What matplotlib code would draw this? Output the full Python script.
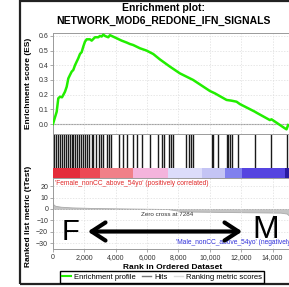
import matplotlib
matplotlib.use("Agg")
import matplotlib.pyplot as plt
from matplotlib.patches import Rectangle, FancyArrowPatch
from matplotlib.lines import Line2D

plt.rcParams['font.family'] = ['Liberation Sans', 'DejaVu Sans']

# running enrichment score (rank, ES)
es_rank = [0, 127, 236, 274, 338, 446, 573, 656, 764, 873, 975, 1083, 1191, 1293,
           1401, 1510, 1612, 1720, 1828, 1930, 2038, 2147, 2357, 2465, 2675, 2886,
           2994, 3102, 3204, 3312, 3523, 3631, 3739, 4058, 4376, 4695, 4905, 5115,
           5542, 5969, 6389, 6816, 7453, 8090, 8937, 10001, 10319, 11065, 11383,
           11702, 11912, 12867, 12976, 13823, 13931, 14778, 14887, 14989]
es_val = [0.0, 0.046, 0.084, 0.118, 0.175, 0.186, 0.182, 0.198, 0.22, 0.254, 0.31,
          0.334, 0.357, 0.368, 0.40, 0.425, 0.448, 0.477, 0.49, 0.527, 0.561, 0.577,
          0.577, 0.568, 0.591, 0.591, 0.60, 0.596, 0.609, 0.60, 0.591, 0.605, 0.60,
          0.584, 0.568, 0.555, 0.545, 0.538, 0.516, 0.50, 0.477, 0.44, 0.391, 0.345,
          0.30, 0.225, 0.209, 0.164, 0.159, 0.152, 0.136, 0.084, 0.077, 0.027, 0.032,
          -0.029, -0.036, -0.007]

# positions of the gene set members (hits)
hits = [64, 191, 318, 446, 573, 701, 828, 955, 1083, 1210, 1306, 1433, 1561, 1656,
        1784, 1911, 2038, 2166, 2293, 2484, 2580, 2739, 2930, 3058, 3185, 3440, 3567,
        3694, 4204, 4459, 4714, 5096, 5351, 5669, 6179, 6688, 6943, 7071, 7389, 7516,
        7644, 8472, 8663, 8791, 8918, 10128, 10224, 10511, 11084, 11180, 11275, 11403,
        11785, 12867, 13887, 14906]

# ranked list metric (rank, value)
metric_rank = [0, 30, 150, 500, 1200, 2500, 4500, 7284, 8000, 9000, 12000, 14500, 14900, 15150]
metric_val = [5.5, 3.8, 2.8, 2.0, 1.4, 0.9, 0.5, 0.0, -1.5, -2.3, -2.8, -3.2, -4.0, -7.0]

# colour bar blocks under the hits
bar_edges = [0, 1700, 2994, 5096, 7325, 9491, 10956, 12039, 14778, 15400]
bar_colors = ['#e42c3a', '#ec4a55', '#f08088', '#f4b4dc', '#dcdcfa', '#c4c4f4',
              '#8080ee', '#5544e0', '#2a1aa0']

xticks = [0, 2000, 4000, 6000, 8000, 10000, 12000, 14000]
xtick_labels = ['0', '2,000', '4,000', '6,000', '8,000', '10,000', '12,000', '14,000']
es_ticks = [0.0, 0.1, 0.2, 0.3, 0.4, 0.5, 0.6]
rank_ticks = [-30, -20, -10, 0, 10, 20]

W, H = 289, 287
X_MAX = 15300
fig = plt.figure(figsize=(W / 100, H / 100), dpi=100)


def add_ax(x0, y0, x1, y1):
    return fig.add_axes([x0 / W, 1 - y1 / H, (x1 - x0) / W, (y1 - y0) / H])


def style(ax):
    for s in ax.spines.values():
        s.set_color('#9a9a9a')
        s.set_linewidth(0.7)
    ax.tick_params(labelsize=5, length=2, width=0.5, color='#888888',
                   labelcolor='#333333', pad=1.5)
    ax.set_xlim(0, X_MAX)


# outer frame
fig.patches.append(Rectangle((20 / W, 1 - 284 / H), 1.0, 283 / H, transform=fig.transFigure,
                             fill=False, ec='#222222', lw=1.6))

fig.text(163 / W, 1 - 8 / H, 'Enrichment plot:', ha='center', va='center',
         fontweight='bold', fontsize=7.5)
fig.text(163 / W, 1 - 21 / H, 'NETWORK_MOD6_REDONE_IFN_SIGNALS', ha='center', va='center',
         fontweight='bold', fontsize=7.5)

# ES panel
ax_es = add_ax(53, 33, 293, 134)
style(ax_es)
ax_es.axhline(0, color='#a0a0a0', lw=0.8, zorder=1)
ax_es.plot(es_rank, es_val, color='#22ee00', lw=1.8, zorder=3)
ax_es.set_ylim(-0.068, 0.62)
ax_es.set_yticks(es_ticks)
ax_es.set_yticklabels([f'{t:.1f}' for t in es_ticks])
ax_es.set_xticks(xticks)
ax_es.set_xticklabels([])
ax_es.tick_params(axis='x', length=0)
ax_es.grid(color='#dddddd', ls=(0, (2, 2)), lw=0.5)
ax_es.set_ylabel('Enrichment score (ES)', fontweight='bold', fontsize=6)
ax_es.yaxis.set_label_coords(-0.088, 0.5)

# hits
ax_hits = add_ax(53, 134, 293, 168)
style(ax_hits)
ax_hits.vlines(hits, 0, 1, color='#1a1a1a', lw=1.0)
ax_hits.set_ylim(0, 1)
ax_hits.set_xticks([])
ax_hits.set_yticks([])

# colour bar
ax_bar = add_ax(53, 168, 293, 178)
style(ax_bar)
for i, c in enumerate(bar_colors):
    ax_bar.axvspan(bar_edges[i], bar_edges[i + 1], color=c, lw=0)
ax_bar.set_xticks([])
ax_bar.set_yticks([])
for s in ax_bar.spines.values():
    s.set_visible(False)

# ranked list metric
ax_rank = add_ax(53, 178, 293, 249)
style(ax_rank)
ax_rank.fill_between(metric_rank, metric_val, 0, color='#c4c4c4', lw=0.6, edgecolor='#aaaaaa')
ax_rank.set_ylim(-35.1, 27.2)
ax_rank.set_yticks(rank_ticks)
ax_rank.set_xticks(xticks)
ax_rank.set_xticklabels(xtick_labels)
ax_rank.grid(color='#dddddd', ls=(0, (2, 2)), lw=0.5)
ax_rank.set_xlabel('Rank in Ordered Dataset', fontweight='bold', fontsize=6, labelpad=2)
ax_rank.set_ylabel('Ranked list metric (tTest)', fontweight='bold', fontsize=6)
ax_rank.yaxis.set_label_coords(-0.088, 0.46)
ax_rank.text(120, 22, "'Female_nonCC_above_54yo' (positively correlated)", color='#e02828',
             fontsize=4.8, va='center')
ax_rank.text(7284, -4.4, 'Zero cross at 7284', color='#333333', fontsize=4.5,
             ha='center', va='center')
ax_rank.text(7835, -29.8, "'Male_nonCC_above_54yo' (negatively correlated)", color='#3333dd',
             fontsize=4.8, va='center')

# F <-> M annotation
fig.patches.append(FancyArrowPatch((85 / W, 1 - 231.5 / H), (245 / W, 1 - 231.5 / H),
                                   transform=fig.transFigure,
                                   arrowstyle='<->,head_length=1.0,head_width=0.65',
                                   mutation_scale=10, lw=3, color='black'))
fig.text(70 / W, 1 - 232 / H, 'F', fontsize=21, ha='center', va='center')
fig.text(266 / W, 1 - 230 / H, 'M', fontsize=23, ha='center', va='center')

# legend
handles = [Line2D([], [], color='#22ee00', lw=1.5),
           Line2D([], [], color='#777777', lw=1),
           Line2D([], [], color='#dddddd', lw=1)]
fig.legend(handles, ['Enrichment profile', 'Hits', 'Ranking metric scores'],
           loc='center', bbox_to_anchor=(162 / W, 1 - 277 / H), ncol=3, fontsize=5.5,
           frameon=True, edgecolor='black', fancybox=False, framealpha=1,
           handlelength=1.2, columnspacing=0.8, handletextpad=0.4, borderpad=0.25)

fig.savefig('out.png', dpi=100)
